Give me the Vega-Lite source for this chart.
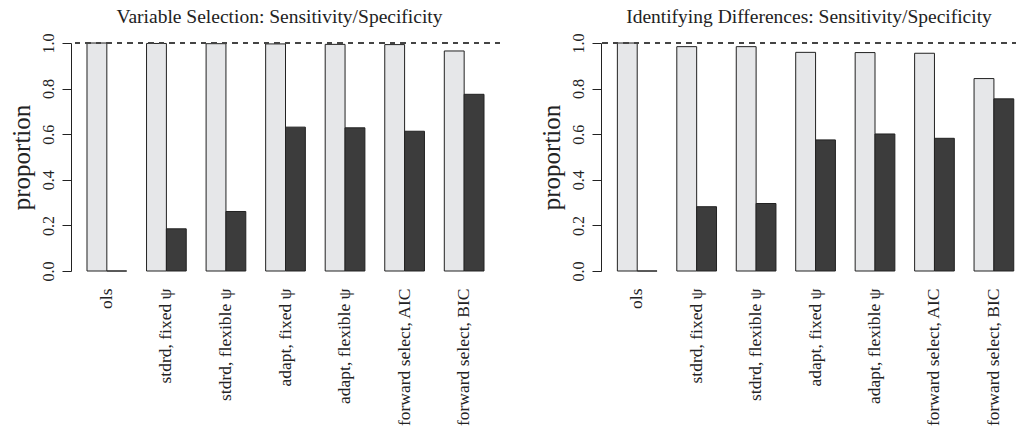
{
  "$schema": "https://vega.github.io/schema/vega-lite/v6.json",
  "padding": {"left": 8, "top": 6, "right": 0, "bottom": 0},
  "background": "white",
  "config": {
    "font": "Liberation Serif",
    "view": {"stroke": null},
    "title": {"font": "Liberation Serif", "fontSize": 19.5, "fontWeight": "normal", "color": "#222", "offset": 6},
    "axis": {"labelFont": "Liberation Serif", "titleFont": "Liberation Serif", "labelColor": "#222", "titleColor": "#222", "grid": false}
  },
  "datasets": {
    "main": [
      {"panel": "vs", "method": "ols", "measure": "Sensitivity", "value": 1.0},
      {"panel": "vs", "method": "ols", "measure": "Specificity", "value": 0.0},
      {"panel": "vs", "method": "stdrd, fixed ψ", "measure": "Sensitivity", "value": 0.998},
      {"panel": "vs", "method": "stdrd, fixed ψ", "measure": "Specificity", "value": 0.185},
      {"panel": "vs", "method": "stdrd, flexible ψ", "measure": "Sensitivity", "value": 0.997},
      {"panel": "vs", "method": "stdrd, flexible ψ", "measure": "Specificity", "value": 0.261},
      {"panel": "vs", "method": "adapt, fixed ψ", "measure": "Sensitivity", "value": 0.996},
      {"panel": "vs", "method": "adapt, fixed ψ", "measure": "Specificity", "value": 0.631},
      {"panel": "vs", "method": "adapt, flexible ψ", "measure": "Sensitivity", "value": 0.994},
      {"panel": "vs", "method": "adapt, flexible ψ", "measure": "Specificity", "value": 0.628},
      {"panel": "vs", "method": "forward select, AIC", "measure": "Sensitivity", "value": 0.993},
      {"panel": "vs", "method": "forward select, AIC", "measure": "Specificity", "value": 0.613},
      {"panel": "vs", "method": "forward select, BIC", "measure": "Sensitivity", "value": 0.965},
      {"panel": "vs", "method": "forward select, BIC", "measure": "Specificity", "value": 0.775},
      {"panel": "id", "method": "ols", "measure": "Sensitivity", "value": 1.0},
      {"panel": "id", "method": "ols", "measure": "Specificity", "value": 0.0},
      {"panel": "id", "method": "stdrd, fixed ψ", "measure": "Sensitivity", "value": 0.984},
      {"panel": "id", "method": "stdrd, fixed ψ", "measure": "Specificity", "value": 0.282},
      {"panel": "id", "method": "stdrd, flexible ψ", "measure": "Sensitivity", "value": 0.984},
      {"panel": "id", "method": "stdrd, flexible ψ", "measure": "Specificity", "value": 0.296},
      {"panel": "id", "method": "adapt, fixed ψ", "measure": "Sensitivity", "value": 0.959},
      {"panel": "id", "method": "adapt, fixed ψ", "measure": "Specificity", "value": 0.575},
      {"panel": "id", "method": "adapt, flexible ψ", "measure": "Sensitivity", "value": 0.958},
      {"panel": "id", "method": "adapt, flexible ψ", "measure": "Specificity", "value": 0.601},
      {"panel": "id", "method": "forward select, AIC", "measure": "Sensitivity", "value": 0.955},
      {"panel": "id", "method": "forward select, AIC", "measure": "Specificity", "value": 0.582},
      {"panel": "id", "method": "forward select, BIC", "measure": "Sensitivity", "value": 0.844},
      {"panel": "id", "method": "forward select, BIC", "measure": "Specificity", "value": 0.755}
    ]
  },
  "data": {"name": "main"},
  "spacing": 37,
  "hconcat": [
    {
      "title": {"text": "Variable Selection: Sensitivity/Specificity", "dx": -6},
      "width": 429,
      "height": 228,
      "transform": [{"filter": "datum.panel === 'vs'"}],
      "layer": [
        {
          "mark": {"type": "bar", "stroke": "#222", "strokeWidth": 1},
          "encoding": {
            "x": {"field": "method", "type": "nominal", "sort": null,
              "scale": {"paddingInner": 0.3333, "paddingOuter": 0.2685},
              "axis": {"title": null, "domain": false, "ticks": false, "labelAngle": -90, "labelAlign": "right", "labelBaseline": "middle", "labelPadding": 17, "labelFontSize": 17.5, "labelLimit": 400}},
            "xOffset": {"field": "measure", "type": "nominal", "scale": {"paddingInner": 0, "paddingOuter": 0}},
            "y": {"field": "value", "type": "quantitative", "scale": {"domain": [0, 1], "nice": false, "zero": true},
              "axis": {"title": "proportion", "values": [0, 0.2, 0.4, 0.6, 0.8, 1.0], "format": ".1f", "domainColor": "#222", "tickColor": "#222", "tickSize": 9, "labelAngle": -90, "labelAlign": "center", "labelBaseline": "middle", "labelPadding": 14, "labelFontSize": 16, "titleFontSize": 25, "titleFontWeight": "normal", "titlePadding": 6}},
            "color": {"field": "measure", "type": "nominal", "scale": {"domain": ["Sensitivity", "Specificity"], "range": ["#e6e7e9", "#3c3c3c"]}, "legend": null}
          }
        },
        {
          "mark": {"type": "rule", "strokeDash": [5, 5.5], "color": "#444", "strokeWidth": 1},
          "encoding": {"y": {"datum": 1}}
        }
      ]
    },
    {
      "title": {"text": "Identifying Differences: Sensitivity/Specificity", "dx": 0},
      "width": 416,
      "height": 228,
      "transform": [{"filter": "datum.panel === 'id'"}],
      "layer": [
        {
          "mark": {"type": "bar", "stroke": "#222", "strokeWidth": 1},
          "encoding": {
            "x": {"field": "method", "type": "nominal", "sort": null,
              "scale": {"paddingInner": 0.3333, "paddingOuter": 0.1654, "align": 0.832},
              "axis": {"title": null, "domain": false, "ticks": false, "labelAngle": -90, "labelAlign": "right", "labelBaseline": "middle", "labelPadding": 17, "labelFontSize": 17.5, "labelLimit": 400}},
            "xOffset": {"field": "measure", "type": "nominal", "scale": {"paddingInner": 0, "paddingOuter": 0}},
            "y": {"field": "value", "type": "quantitative", "scale": {"domain": [0, 1], "nice": false, "zero": true},
              "axis": {"title": "proportion", "values": [0, 0.2, 0.4, 0.6, 0.8, 1.0], "format": ".1f", "domainColor": "#222", "tickColor": "#222", "tickSize": 9, "labelAngle": -90, "labelAlign": "center", "labelBaseline": "middle", "labelPadding": 14, "labelFontSize": 16, "titleFontSize": 25, "titleFontWeight": "normal", "titlePadding": 6}},
            "color": {"field": "measure", "type": "nominal", "scale": {"domain": ["Sensitivity", "Specificity"], "range": ["#e6e7e9", "#3c3c3c"]}, "legend": null}
          }
        },
        {
          "mark": {"type": "rule", "strokeDash": [5, 5.5], "color": "#444", "strokeWidth": 1},
          "encoding": {"y": {"datum": 1}}
        }
      ]
    }
  ]
}
